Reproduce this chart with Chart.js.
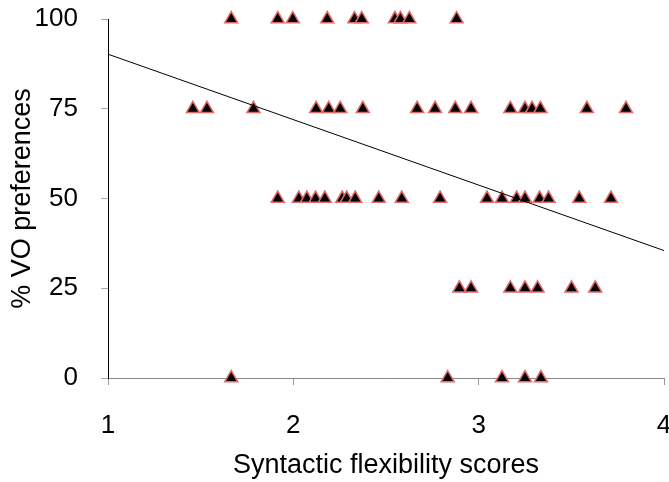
<!DOCTYPE html>
<html>
<head>
<meta charset="utf-8">
<script src="https://cdn.jsdelivr.net/npm/chart.js@4.4.1/dist/chart.umd.min.js"></script>
<style>
  html, body { margin: 0; padding: 0; background: #fff; }
  #wrap { width: 669px; height: 482px; }
</style>
</head>
<body>
<div id="wrap"><canvas id="myChart" width="669" height="482"></canvas></div>
<script>
// syntactic flexibility scores, grouped by % VO preferences
var scores100 = [1.665, 1.916, 1.997, 2.183, 2.33, 2.369, 2.548, 2.578, 2.626, 2.881];
var scores75 = [1.458, 1.534, 1.785, 2.123, 2.191, 2.253, 2.375, 2.668, 2.765, 2.874, 2.959,
                3.171, 3.25, 3.288, 3.333, 3.584, 3.795];
var scores50 = [1.916, 2.03, 2.073, 2.12, 2.17, 2.264, 2.288, 2.334, 2.461, 2.585, 2.792,
                3.045, 3.126, 3.205, 3.25, 3.329, 3.377, 3.543, 3.714];
var scores25 = [2.896, 2.959, 3.171, 3.25, 3.318, 3.501, 3.629];
var scores0 = [1.665, 2.833, 3.126, 3.25, 3.336];
var prefLevels = [100, 75, 50, 25, 0];

var trendX = [1, 4];
var trendY = [90.2, 35.5];

var xTicks = [1, 2, 3, 4];
var yTicks = [0, 25, 50, 75, 100];

var groups = [scores100, scores75, scores50, scores25, scores0];
var points = [];
for (var g = 0; g < groups.length; g++) {
    for (var i = 0; i < groups[g].length; i++) {
        points.push({ x: groups[g][i], y: prefLevels[g] });
    }
}
var trend = [];
for (var t = 0; t < trendX.length; t++) {
    trend.push({ x: trendX[t], y: trendY[t] });
}

var fontFam = '"Liberation Sans", Arial, sans-serif';

var ctx = document.getElementById("myChart").getContext("2d");
var myChart = new Chart(ctx, {
    type: 'scatter',
    data: {
        datasets: [
            {
                type: 'line',
                data: trend,
                borderColor: '#000',
                borderWidth: 1,
                pointRadius: 0,
                fill: false,
                clip: false
            },
            {
                data: points,
                pointStyle: 'triangle',
                pointRadius: 7.5,
                backgroundColor: '#000',
                borderColor: '#e06a6a',
                borderWidth: 1.5,
                clip: false
            }
        ]
    },
    options: {
        responsive: false,
        animation: false,
        layout: { autoPadding: false, padding: { left: 0, right: 5, top: 19, bottom: 0 } },
        plugins: {
            legend: { display: false },
            tooltip: { enabled: false }
        },
        scales: {
            x: {
                type: 'linear',
                min: 1,
                max: 4,
                afterBuildTicks: function (s) {
                    s.ticks = xTicks.map(function (v) { return { value: v }; });
                },
                afterFit: function (s) {
                    s.height = 104;
                    s.paddingLeft = 0;
                    s.paddingRight = 0;
                },
                grid: {
                    drawOnChartArea: false,
                    drawTicks: true,
                    tickLength: 7,
                    color: '#999'
                },
                border: { color: '#888', width: 1 },
                ticks: {
                    color: '#000',
                    padding: 25,
                    maxRotation: 0,
                    font: { family: fontFam, size: 26 }
                },
                title: {
                    display: true,
                    text: 'Syntactic flexibility scores',
                    color: '#000',
                    font: { family: fontFam, size: 27 },
                    padding: { top: 0, bottom: 0 }
                }
            },
            y: {
                type: 'linear',
                min: 0,
                max: 100,
                afterBuildTicks: function (s) {
                    s.ticks = yTicks.map(function (v) { return { value: v }; });
                },
                afterFit: function (s) {
                    s.width = 108;
                    s.paddingTop = 0;
                    s.paddingBottom = 0;
                },
                grid: {
                    drawOnChartArea: false,
                    drawTicks: true,
                    tickLength: 7,
                    color: '#aaa'
                },
                border: { color: '#000', width: 1 },
                ticks: {
                    color: '#000',
                    padding: 23,
                    font: { family: fontFam, size: 26 }
                },
                title: {
                    display: true,
                    text: '% VO preferences',
                    color: '#000',
                    font: { family: fontFam, size: 27 },
                    padding: { top: 6, bottom: 0 }
                }
            }
        }
    }
});
</script>
</body>
</html>
